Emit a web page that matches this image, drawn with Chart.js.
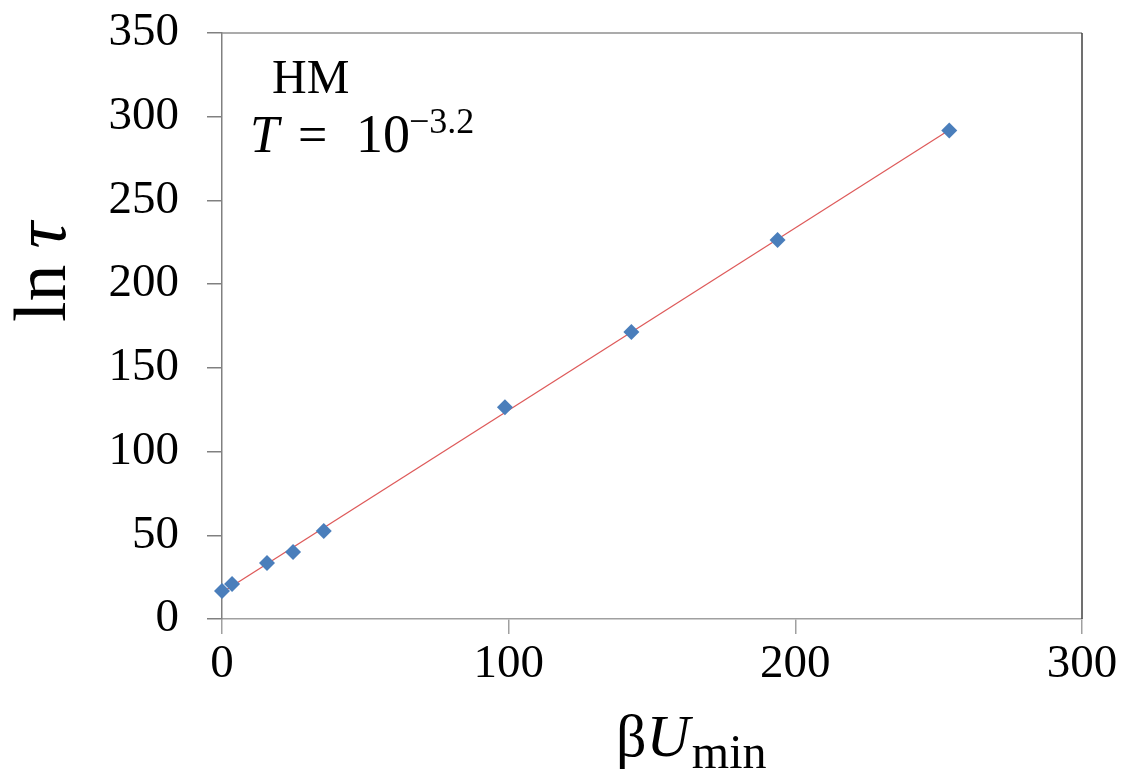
<!DOCTYPE html>
<html>
<head>
<meta charset="utf-8">
<script src="https://cdn.jsdelivr.net/npm/chart.js@4/dist/chart.umd.min.js"></script>
<style>
  body { margin: 0; background: #fff; }
  #wrap { width: 1122px; height: 773px; }
</style>
</head>
<body>
<div id="wrap"><canvas id="lnTauChart" width="1122" height="773"></canvas></div>
<script>
// values
var betaU = [0, 3.5, 15.7, 24.8, 35.5, 98.7, 142.8, 193.8, 253.7];
var lnTau = [16.7, 20.9, 33.4, 40.0, 52.6, 126.4, 171.4, 226.4, 291.7];
var xTicks = [0, 100, 200, 300];
var yTicks = [0, 50, 100, 150, 200, 250, 300, 350];

var serif = "'Liberation Serif', 'Times New Roman', serif";

// linear trendline (least squares), like the spreadsheet one
var n = betaU.length, sx = 0, sy = 0, sxx = 0, sxy = 0;
for (let i = 0; i < n; i++) {
  sx += betaU[i]; sy += lnTau[i];
  sxx += betaU[i] * betaU[i]; sxy += betaU[i] * lnTau[i];
}
var slope = (n * sxy - sx * sy) / (n * sxx - sx * sx);
var icept = (sy - slope * sx) / n;
var xEnd = betaU[n - 1];
var trend = [{ x: 0, y: icept }, { x: xEnd, y: icept + slope * xEnd }];

var points = betaU.map(function(v, i) { return { x: v, y: lnTau[i] }; });

var textPlugin = {
  id: "labels",
  afterDraw: function(chart) {
    var ctx = chart.ctx;
    var a = chart.chartArea;
    ctx.save();
    // top and right frame
    ctx.lineWidth = 1.5;
    ctx.strokeStyle = "#8f8f8f";
    ctx.beginPath(); ctx.moveTo(a.left, a.top); ctx.lineTo(a.right, a.top); ctx.stroke();
    ctx.strokeStyle = "#404040";
    ctx.beginPath(); ctx.moveTo(a.right, a.top); ctx.lineTo(a.right, a.bottom); ctx.stroke();

    ctx.fillStyle = "#000";
    ctx.textBaseline = "alphabetic";
    ctx.textAlign = "left";

    // annotation
    ctx.font = "48px " + serif;
    ctx.fillText("HM", 272, 93);
    ctx.font = "italic 52px " + serif;
    ctx.fillText("T", 250, 152);
    ctx.font = "52px " + serif;
    ctx.fillText("=", 298, 152);
    ctx.font = "54px " + serif;
    ctx.fillText("10", 356, 152);
    ctx.font = "36px " + serif;
    ctx.fillText("\u22123.2", 409, 133);

    // x title
    ctx.font = "60px " + serif;
    ctx.fillText("\u03B2", 616, 756);
    var w = ctx.measureText("\u03B2").width;
    ctx.font = "italic 60px " + serif;
    ctx.fillText("U", 616 + w, 756);
    w += ctx.measureText("U").width;
    ctx.font = "48px " + serif;
    ctx.fillText("min", 616 + w + 2, 768);

    // y title
    ctx.translate(65, 322);
    ctx.rotate(-Math.PI / 2);
    ctx.font = "74px " + serif;
    ctx.fillText("ln", 0, 0);
    var lw = ctx.measureText("ln").width;
    ctx.font = "italic 74px " + serif;
    ctx.fillText("\u03C4", lw + 16, 0);
    ctx.restore();
  }
};

var config = {
  type: "scatter",
  data: {
    datasets: [
      {
        label: "trend",
        data: trend,
        showLine: true,
        borderColor: "rgb(222, 90, 90)",
        borderWidth: 1.2,
        pointRadius: 0,
        order: 2
      },
      {
        label: "ln tau",
        data: points,
        clip: false,
        pointStyle: "rectRot",
        pointRadius: 8,
        backgroundColor: "#4a7ebb",
        borderColor: "#4a7ebb",
        borderWidth: 0,
        order: 1
      }
    ]
  },
  options: {
    responsive: false,
    animation: false,
    layout: { padding: { top: 33, right: 40, left: 0, bottom: 0 } },
    plugins: {
      legend: { display: false },
      tooltip: { enabled: false }
    },
    scales: {
      x: {
        type: "linear",
        min: 0,
        max: 300,
        afterBuildTicks: function(scale) {
          scale.ticks = xTicks.map(function(v) { return { value: v }; });
        },
        afterFit: function(scale) {
          scale.height = 154;
          scale.paddingLeft = 0;
          scale.paddingRight = 0;
        },
        border: { color: "#a0a0a0", width: 1.5 },
        grid: { drawOnChartArea: false, tickLength: 15, color: "#a0a0a0", lineWidth: 1.5 },
        ticks: { color: "#000", padding: 2, maxRotation: 0, font: { family: serif, size: 47 } }
      },
      y: {
        type: "linear",
        min: 0,
        max: 350,
        afterBuildTicks: function(scale) {
          scale.ticks = yTicks.map(function(v) { return { value: v }; });
        },
        afterFit: function(scale) {
          scale.width = 222;
          scale.paddingTop = 0;
          scale.paddingBottom = 0;
        },
        border: { color: "#808080", width: 1.5 },
        grid: { drawOnChartArea: false, tickLength: 15, color: "#808080", lineWidth: 1.5 },
        ticks: { color: "#000", padding: 28, font: { family: serif, size: 47 } }
      }
    }
  },
  plugins: [textPlugin]
};

var lnTauChart = new Chart(document.getElementById("lnTauChart"), config);
</script>
</body>
</html>
